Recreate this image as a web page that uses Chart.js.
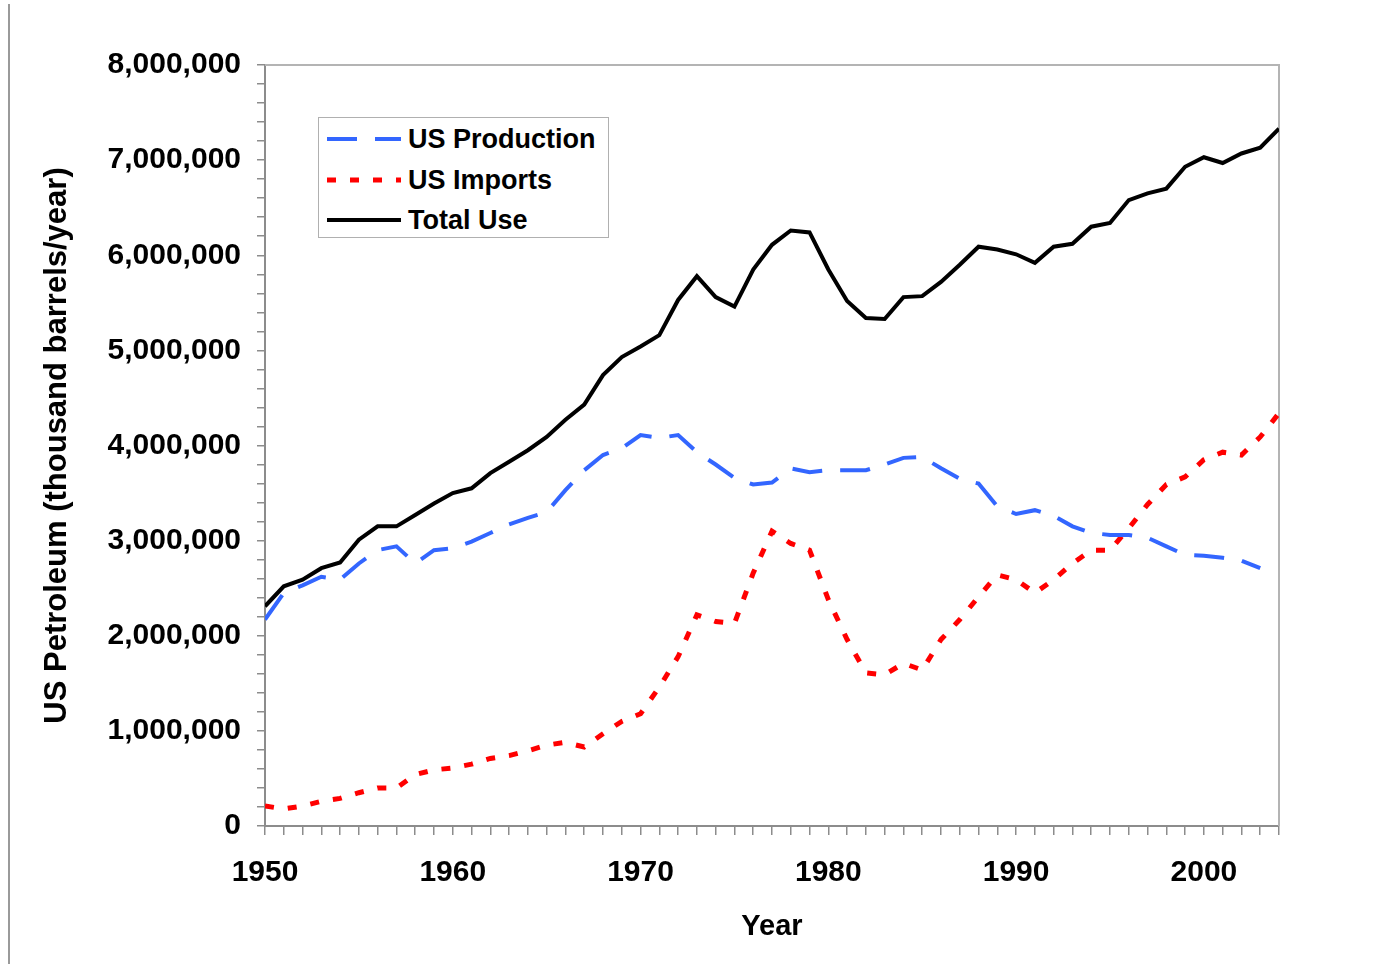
<!DOCTYPE html>
<html lang="en">
<head>
  <meta charset="UTF-8">
  <title>US Petroleum</title>
  <style>
    body { margin: 0; background: #fff; }
    #wrap { position: relative; width: 1375px; height: 964px; }
    #edge { position: absolute; left: 8px; top: 4px; width: 2px; height: 960px; background: #9a9a9a; }
    #legend { position: absolute; left: 318px; top: 117px; width: 289px; height: 119px;
      border: 1.5px solid #b0b0b0; background: #fff;
      font: bold 27px "Liberation Sans", Arial, sans-serif; color: #000; }
    .row { position: absolute; left: 8px; height: 30px; display: flex; align-items: center; white-space: nowrap; }
    .row svg { margin-right: 7px; }
  </style>
</head>
<body>
  <div id="wrap">
    <canvas id="chart" width="1375" height="964"></canvas>
    <div id="edge"></div>
    <div id="legend"></div>
  </div>
  <script src="https://cdn.jsdelivr.net/npm/chart.js@4/dist/chart.umd.min.js"></script>
  <script>
    // thousand barrels / year
    const years = [1950, 1951, 1952, 1953, 1954, 1955, 1956, 1957, 1958, 1959,
                   1960, 1961, 1962, 1963, 1964, 1965, 1966, 1967, 1968, 1969,
                   1970, 1971, 1972, 1973, 1974, 1975, 1976, 1977, 1978, 1979,
                   1980, 1981, 1982, 1983, 1984, 1985, 1986, 1987, 1988, 1989,
                   1990, 1991, 1992, 1993, 1994, 1995, 1996, 1997, 1998, 1999,
                   2000, 2001, 2002, 2003, 2004];

    const production = [2170000, 2450000, 2530000, 2620000, 2590000, 2760000, 2900000, 2940000, 2760000, 2900000,
                        2920000, 2990000, 3080000, 3170000, 3240000, 3300000, 3530000, 3740000, 3900000, 3970000,
                        4110000, 4080000, 4110000, 3930000, 3800000, 3660000, 3590000, 3610000, 3760000, 3720000,
                        3740000, 3740000, 3740000, 3800000, 3870000, 3880000, 3760000, 3650000, 3600000, 3360000,
                        3280000, 3320000, 3260000, 3150000, 3080000, 3060000, 3060000, 3030000, 2940000, 2850000,
                        2840000, 2820000, 2790000, 2710000, null];

    const imports = [210000, 180000, 210000, 260000, 290000, 350000, 400000, 400000, 540000, 590000,
                     610000, 650000, 710000, 740000, 790000, 850000, 880000, 830000, 970000, 1100000,
                     1180000, 1460000, 1780000, 2220000, 2150000, 2130000, 2660000, 3100000, 2970000, 2900000,
                     2380000, 1960000, 1610000, 1590000, 1710000, 1640000, 1960000, 2170000, 2410000, 2640000,
                     2590000, 2450000, 2590000, 2760000, 2900000, 2900000, 3130000, 3380000, 3590000, 3670000,
                     3850000, 3930000, 3900000, 4090000, 4340000];

    const totalUse = [2310000, 2520000, 2590000, 2710000, 2770000, 3010000, 3150000, 3150000, 3270000, 3390000,
                      3500000, 3550000, 3710000, 3830000, 3950000, 4090000, 4270000, 4430000, 4740000, 4930000,
                      5040000, 5160000, 5530000, 5780000, 5560000, 5460000, 5850000, 6110000, 6260000, 6240000,
                      5850000, 5520000, 5340000, 5330000, 5560000, 5570000, 5720000, 5900000, 6090000, 6060000,
                      6010000, 5920000, 6090000, 6120000, 6300000, 6340000, 6580000, 6650000, 6700000, 6930000,
                      7030000, 6970000, 7070000, 7130000, 7330000];

    const seriesNames = ['US Production', 'US Imports', 'Total Use'];

    const FONT = '"Liberation Sans", Arial, sans-serif';
    const AXIS = '#8c8c8c';

    function pts(arr) {
      return years.map((yr, i) => ({ x: yr, y: arr[i] }));
    }

    const datasets = [
      { label: seriesNames[0], data: pts(production), borderColor: '#3366ff', borderWidth: 4, borderDash: [30, 18] },
      { label: seriesNames[1], data: pts(imports), borderColor: '#ff0000', borderWidth: 5, borderDash: [9, 14] },
      { label: seriesNames[2], data: pts(totalUse), borderColor: '#000000', borderWidth: 4, borderDash: [] }
    ];

    const frame = {
      id: 'frame',
      beforeDatasetsDraw(chart) {
        const { ctx, chartArea: a } = chart;
        ctx.save();
        ctx.strokeStyle = '#b4b4b4';
        ctx.lineWidth = 2;
        ctx.beginPath();
        ctx.moveTo(a.left, a.top);
        ctx.lineTo(a.right, a.top);
        ctx.lineTo(a.right, a.bottom);
        ctx.stroke();
        ctx.restore();
      }
    };

    const chart = new Chart(document.getElementById('chart'), {
      type: 'line',
      data: { datasets: datasets },
      plugins: [frame],
      options: {
        responsive: false,
        animation: false,
        devicePixelRatio: 1,
        layout: { padding: { left: 0, top: 65, right: 96, bottom: 0 } },
        plugins: { legend: { display: false }, tooltip: { enabled: false } },
        elements: { point: { radius: 0 }, line: { tension: 0, borderCapStyle: 'butt', fill: false } },
        scales: {
          x: {
            type: 'linear', min: 1950, max: 2004,
            afterFit(s) { s.height = 138; },
            ticks: {
              stepSize: 1, autoSkip: false, maxRotation: 0, padding: 20,
              color: '#000', font: { family: FONT, size: 30, weight: 'bold' },
              callback: v => (v % 10 === 0 ? String(v) : '')
            },
            grid: { drawOnChartArea: false, tickLength: 9, color: AXIS, lineWidth: 1.5 },
            border: { color: AXIS, width: 2 },
            title: { display: true, text: 'Year', color: '#000',
                     font: { family: FONT, size: 29, weight: 'bold' }, padding: { top: 0, bottom: 20 } }
          },
          y: {
            min: 0, max: 8000000,
            afterFit(s) { s.width = 265; },
            ticks: {
              stepSize: 200000, autoSkip: false, padding: 16,
              color: '#000', font: { family: FONT, size: 30, weight: 'bold' },
              callback: v => (v % 1000000 === 0 ? v.toLocaleString('en-US') : '')
            },
            grid: { drawOnChartArea: false, tickLength: 8, color: AXIS, lineWidth: 1.5 },
            border: { color: AXIS, width: 2 },
            title: { display: true, text: 'US Petroleum (thousand barrels/year)', color: '#000',
                     font: { family: FONT, size: 31, weight: 'bold' }, padding: { top: 39, bottom: 0 } }
          }
        }
      }
    });

    // legend box inside the plot, built from the datasets
    const legend = document.getElementById('legend');
    const rowTops = [6, 47, 87];
    chart.data.datasets.forEach((ds, i) => {
      const row = document.createElement('div');
      row.className = 'row';
      row.style.top = rowTops[i] + 'px';
      const dash = ds.borderDash.length ? ds.borderDash.join(' ') : 'none';
      row.innerHTML =
        '<svg width="74" height="10"><line x1="0" y1="5" x2="74" y2="5" stroke="' + ds.borderColor +
        '" stroke-width="' + ds.borderWidth + '" stroke-dasharray="' + dash + '"/></svg>' +
        '<span>' + ds.label + '</span>';
      legend.appendChild(row);
    });
  </script>
</body>
</html>
